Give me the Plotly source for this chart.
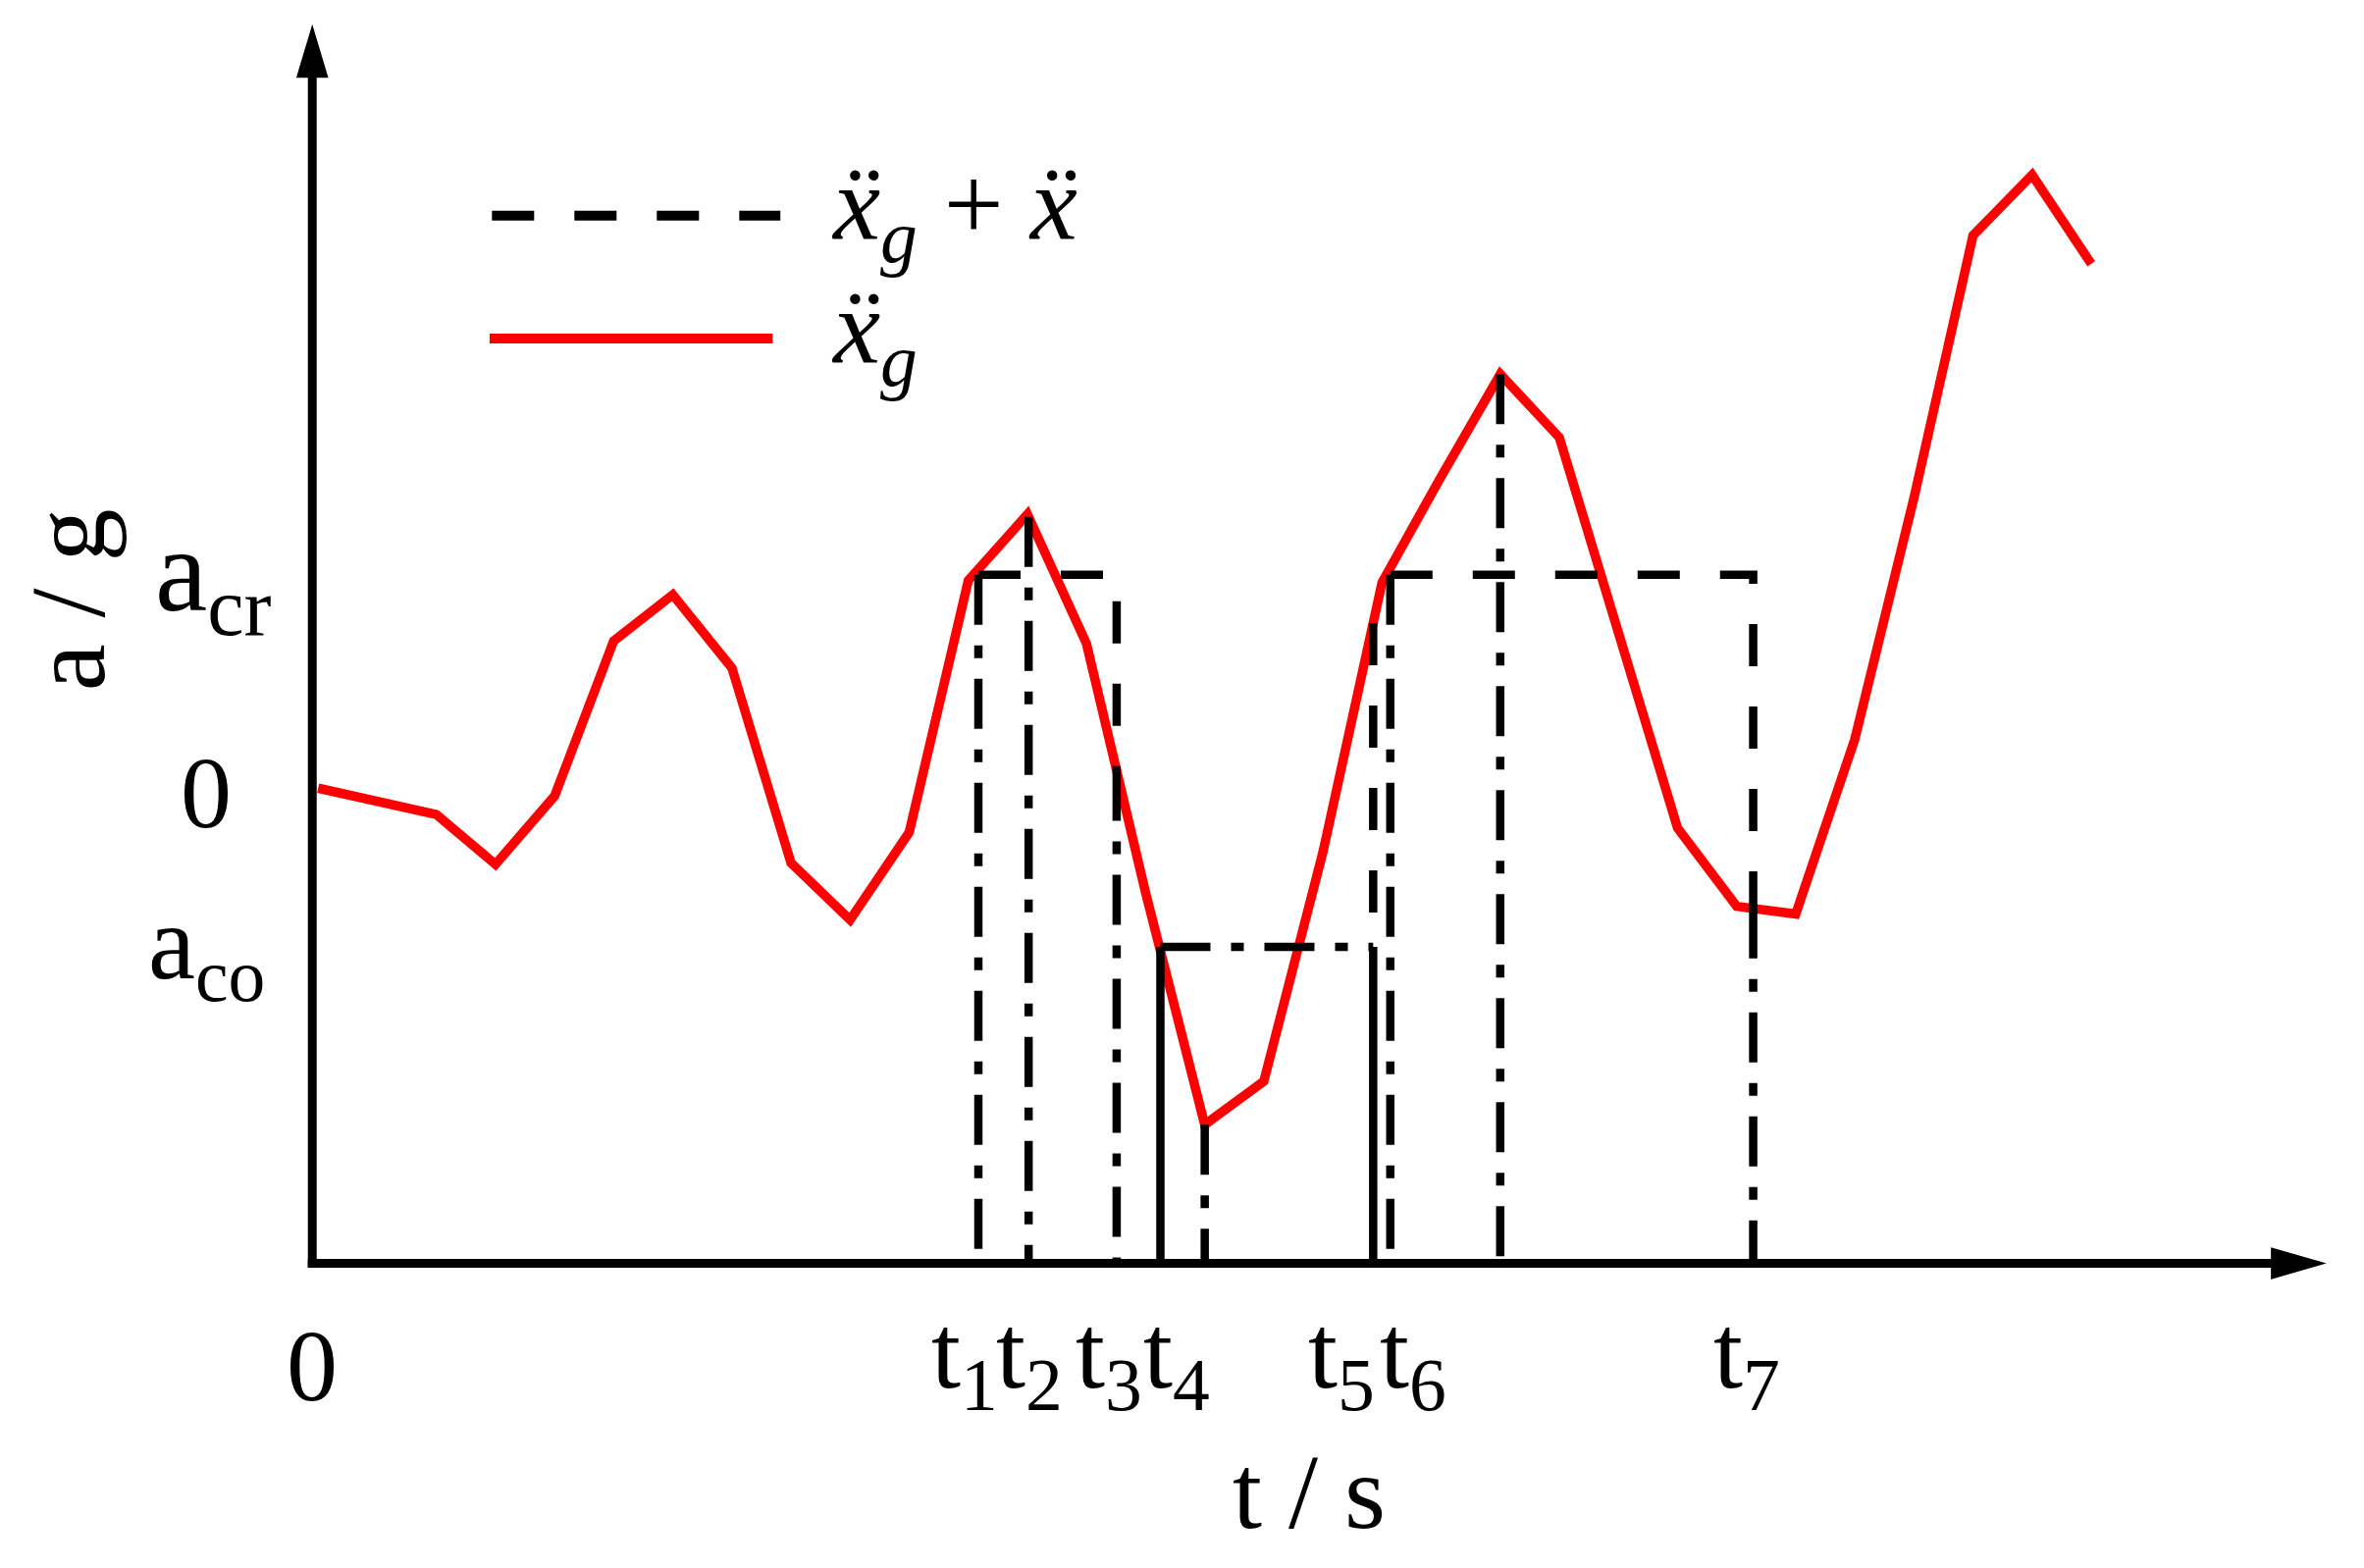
import numpy as np
import plotly.graph_objects as go

# ---------------- data ----------------
t_samples = [0.01, 0.11, 0.21, 0.31, 0.41, 0.51, 0.61, 0.71, 0.81, 0.91,
             1.01, 1.11, 1.21, 1.31, 1.41, 1.51, 1.61, 1.71, 1.81, 1.91,
             2.01, 2.11, 2.21, 2.31, 2.41, 2.51, 2.61, 2.71, 2.81, 2.91, 3.01]
a_ground = [0.000, -0.018, -0.037, -0.107, -0.011, 0.207, 0.272, 0.169, -0.105, -0.185,
            -0.062, 0.292, 0.385, 0.203, -0.147, -0.473, -0.412, -0.090, 0.289, 0.438,
            0.582, 0.493, 0.217, -0.056, -0.166, -0.177, 0.069, 0.408, 0.777, 0.862, 0.737]

t_names = ["t<sub>1</sub>", "t<sub>2</sub>", "t<sub>3</sub>", "t<sub>4</sub>",
           "t<sub>5</sub>", "t<sub>6</sub>", "t<sub>7</sub>"]
t_values = [1.127, 1.212, 1.361, 1.435, 1.795, 1.824, 2.438]

a_cr = 0.300
a_co = -0.223
y_labels = ["a<sub>cr</sub>", "0", "a<sub>co</sub>"]
y_label_values = [a_cr, 0.0, a_co]

legend_names = ["<i>ẍ</i><sub><i>g</i></sub> + <i>ẍ</i>", "<i>ẍ</i><sub><i>g</i></sub>"]

# axis extents (data units)
y_floor = -0.668
x_tip = 3.402
y_tip = 1.069

# ---------------- derived geometry ----------------
t1, t2, t3, t4, t5, t6, t7 = t_values
t_arr = np.array(t_samples)
a_arr = np.array(a_ground)
i_min = int(np.argmin(a_arr[:20]))
i_peak = int(np.argmax(a_arr[:25]))
t_min, a_min = t_arr[i_min], a_arr[i_min]
t_peak, a_peak = t_arr[i_peak], a_arr[i_peak]
a_t2 = float(np.interp(t2, t_arr, a_arr))
a_t3 = float(np.interp(t3, t_arr, a_arr))
a_t5 = float(np.interp(t5, t_arr, a_arr))
a_t7 = float(np.interp(t7, t_arr, a_arr))

FONT = "Liberation Serif, Times New Roman, serif"
LW = 8.5
DASH = "43px,41px"
DASHDOT = "51px,21px,13px,21px"

fig = go.Figure()

# ground acceleration (red)
fig.add_trace(go.Scatter(x=t_samples, y=a_ground, mode="lines",
                         line=dict(color="#ff0000", width=9.5), showlegend=False,
                         hoverinfo="skip"))

# response (dashed)
fig.add_trace(go.Scatter(
    x=[t1, t3, t3, None, t5, t5, None, t6, t7, t7],
    y=[a_cr, a_cr, a_t3, None, a_t5, a_co, None, a_cr, a_cr, a_t7],
    mode="lines", line=dict(color="black", width=LW, dash=DASH),
    showlegend=False, hoverinfo="skip"))

# reference lines (dash-dot)
dd_x = [t1, t1, None, t2, t2, None, t3, t3, None, t_min, t_min, None,
        t6, t6, None, t_peak, t_peak, None, t7, t7, None, t4, t5]
dd_y = [a_cr, y_floor, None, a_t2, y_floor, None, a_t3, y_floor, None, a_min, y_floor, None,
        a_cr, y_floor, None, a_peak, y_floor, None, a_t7, y_floor, None, a_co, a_co]
fig.add_trace(go.Scatter(x=dd_x, y=dd_y, mode="lines",
                         line=dict(color="black", width=LW, dash=DASHDOT),
                         showlegend=False, hoverinfo="skip"))

# solid lines at t4 / t5
fig.add_trace(go.Scatter(x=[t4, t4, None, t5, t5], y=[a_co, y_floor, None, a_co, y_floor],
                         mode="lines", line=dict(color="black", width=LW),
                         showlegend=False, hoverinfo="skip"))

shapes = []
# axes with arrows
shapes.append(dict(type="line", xref="x", yref="y", x0=-0.0075, x1=x_tip - 0.05,
                   y0=y_floor, y1=y_floor, line=dict(color="black", width=9)))
shapes.append(dict(type="line", xref="x", yref="y", x0=0, x1=0,
                   y0=y_floor - 0.006, y1=y_tip - 0.05, line=dict(color="black", width=9)))
shapes.append(dict(type="path", xref="x", yref="y", xsizemode="pixel", ysizemode="pixel",
                   xanchor=0, yanchor=y_tip, path="M -15,-50 L 0,0 L 15,-50 Z",
                   fillcolor="black", line=dict(color="black", width=2)))
shapes.append(dict(type="path", xref="x", yref="y", xsizemode="pixel", ysizemode="pixel",
                   xanchor=x_tip, yanchor=y_floor, path="M -52,-15 L 0,0 L -52,15 Z",
                   fillcolor="black", line=dict(color="black", width=2)))

# hand-made legend samples
shapes.append(dict(type="line", xref="x", yref="y", x0=0.304, x1=0.792, y0=0.805, y1=0.805,
                   line=dict(color="black", width=10, dash=DASH)))
shapes.append(dict(type="line", xref="x", yref="y", x0=0.300, x1=0.779, y0=0.632, y1=0.632,
                   line=dict(color="#ff0000", width=10)))

annotations = []
# t labels
t_xshift = [-14, 1, -8, 17, -32, 23, -7]
for name, tv, dx in zip(t_names, t_values, t_xshift):
    annotations.append(dict(x=tv, y=y_floor, xref="x", yref="y", text=name, showarrow=False,
                            xanchor="center", yanchor="top", xshift=dx, yshift=-28,
                            font=dict(family=FONT, size=108, color="black")))
# origin 0
annotations.append(dict(x=0, y=y_floor, xref="x", yref="y", text="0", showarrow=False,
                        xanchor="center", yanchor="top", yshift=-44,
                        font=dict(family=FONT, size=104, color="black")))
# y labels
y_sizes = [120, 104, 108]
y_shift = [-4, -4, -4]
y_xshift = [-101, -108, -108]
for name, yv, fs, dy, dx in zip(y_labels, y_label_values, y_sizes, y_shift, y_xshift):
    annotations.append(dict(x=0, y=yv, xref="x", yref="y", text=name, showarrow=False,
                            xanchor="center", yanchor="middle", xshift=dx, yshift=dy,
                            font=dict(family=FONT, size=fs, color="black")))
# axis titles
annotations.append(dict(x=1.687, y=y_floor, xref="x", yref="y", text="t / s", showarrow=False,
                        xanchor="center", yanchor="top", yshift=-171,
                        font=dict(family=FONT, size=108, color="black")))
annotations.append(dict(x=0, y=0.265, xref="x", yref="y", text="a / g", showarrow=False,
                        xanchor="center", yanchor="middle", xshift=-249, textangle=-90,
                        font=dict(family=FONT, size=108, color="black")))
# legend texts
for name, yv in zip(legend_names, [0.805, 0.632]):
    annotations.append(dict(x=0.875, y=yv, xref="x", yref="y", text=name, showarrow=False,
                            xanchor="left", yanchor="middle", yshift=4,
                            font=dict(family=FONT, size=108, color="black")))

# the page body has an 8px margin, so the figure is 16px smaller than the window
fig.update_layout(
    width=2393, height=1582,
    margin=dict(l=249.8, r=23.1, t=4.75, b=243.25, pad=0),
    paper_bgcolor="white", plot_bgcolor="white",
    xaxis=dict(range=[-0.1, 3.42], visible=False, fixedrange=True),
    yaxis=dict(range=[-0.75, 1.09], visible=False, fixedrange=True),
    shapes=shapes, annotations=annotations, showlegend=False,
)

fig.write_html("out.html")
